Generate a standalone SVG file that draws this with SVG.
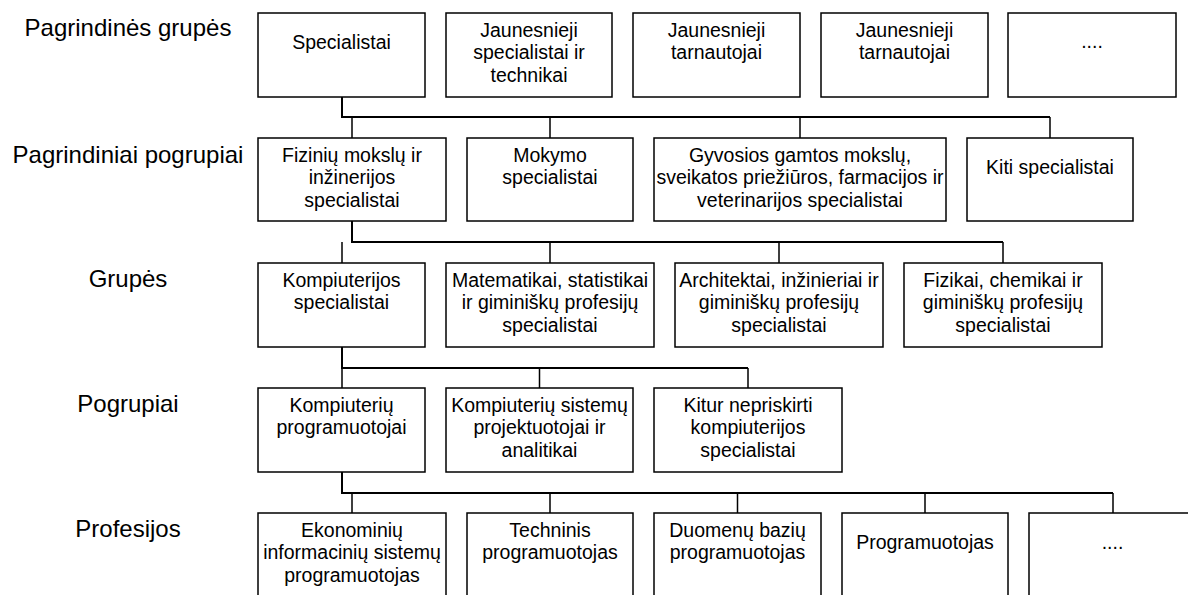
<svg xmlns="http://www.w3.org/2000/svg" width="1188" height="595" viewBox="0 0 1188 595">
<style>
.bg{fill:#fff}
.box{fill:#fff;stroke:#000;stroke-width:1.5}
.t{font-family:"Liberation Sans",Arial,sans-serif;font-size:19.5px;fill:#000;text-anchor:middle}
.lbl{font-family:"Liberation Sans",Arial,sans-serif;font-size:24px;fill:#000;text-anchor:middle}
.main{fill:none;stroke:#000;stroke-width:2}
.drop{fill:none;stroke:#000;stroke-width:1.5}
</style>
<rect class="bg" x="0" y="0" width="1188" height="595"/>
<g id="labels">
<text class="lbl" x="128" y="36">Pagrindinės grupės</text>
<text class="lbl" x="128" y="163">Pagrindiniai pogrupiai</text>
<text class="lbl" x="128" y="287">Grupės</text>
<text class="lbl" x="128" y="412">Pogrupiai</text>
<text class="lbl" x="128" y="537">Profesijos</text>
</g>
<g id="connectors">
<path class="main" d="M342,97 V117 H1050"/>
<path class="drop" d="M352,117 V138 M550,117 V138 M800,117 V138 M1050,117 V138"/>
<path class="main" d="M352,221 V242 H1003"/>
<path class="drop" d="M342,242 V263 M550,242 V263 M779,242 V263 M1003,242 V263"/>
<path class="main" d="M342,347 V368 H748"/>
<path class="drop" d="M342,368 V388 M539.5,368 V388 M748,368 V388"/>
<path class="main" d="M342,472 V493 H1113"/>
<path class="drop" d="M352,493 V513 M550,493 V513 M737.5,493 V513 M925,493 V513 M1113,493 V513"/>
</g>
<g id="n-specialistai"><rect class="box" x="258" y="13" width="167" height="84"/><text class="t" x="341.5" y="49">Specialistai</text></g>
<g id="n-jaun-spec"><rect class="box" x="446" y="13" width="166" height="84"/><text class="t" x="529" y="36.5">Jaunesnieji</text><text class="t" x="529" y="59">specialistai ir</text><text class="t" x="529" y="81.5">technikai</text></g>
<g id="n-jaun-tarn1"><rect class="box" x="633" y="13" width="167" height="84"/><text class="t" x="716.5" y="36.5">Jaunesnieji</text><text class="t" x="716.5" y="59">tarnautojai</text></g>
<g id="n-jaun-tarn2"><rect class="box" x="821" y="13" width="167" height="84"/><text class="t" x="904.5" y="36.5">Jaunesnieji</text><text class="t" x="904.5" y="59">tarnautojai</text></g>
<g id="n-more1"><rect class="box" x="1008" y="13" width="168" height="84"/><text class="t" x="1092" y="48">....</text></g>

<g id="n-fiziniu"><rect class="box" x="258" y="138" width="188" height="83"/><text class="t" x="352" y="161.5">Fizinių mokslų ir</text><text class="t" x="352" y="184">inžinerijos</text><text class="t" x="352" y="206.5">specialistai</text></g>
<g id="n-mokymo"><rect class="box" x="467" y="138" width="166" height="83"/><text class="t" x="550" y="161.5">Mokymo</text><text class="t" x="550" y="184">specialistai</text></g>
<g id="n-gyvosios"><rect class="box" x="654" y="138" width="292" height="83"/><text class="t" x="800" y="161.5">Gyvosios gamtos mokslų,</text><text class="t" x="800" y="184">sveikatos priežiūros, farmacijos ir</text><text class="t" x="800" y="206.5">veterinarijos specialistai</text></g>
<g id="n-kiti"><rect class="box" x="967" y="138" width="166" height="83"/><text class="t" x="1050" y="173.5">Kiti specialistai</text></g>

<g id="n-kompiuterijos"><rect class="box" x="258" y="263" width="167" height="84"/><text class="t" x="341.5" y="286.5">Kompiuterijos</text><text class="t" x="341.5" y="309">specialistai</text></g>
<g id="n-matematikai"><rect class="box" x="446" y="263" width="208" height="84"/><text class="t" x="550" y="286.5">Matematikai, statistikai</text><text class="t" x="550" y="309">ir giminiškų profesijų</text><text class="t" x="550" y="331.5">specialistai</text></g>
<g id="n-architektai"><rect class="box" x="675" y="263" width="208" height="84"/><text class="t" x="779" y="286.5">Architektai, inžinieriai ir</text><text class="t" x="779" y="309">giminiškų profesijų</text><text class="t" x="779" y="331.5">specialistai</text></g>
<g id="n-fizikai"><rect class="box" x="904" y="263" width="198" height="84"/><text class="t" x="1003" y="286.5">Fizikai, chemikai ir</text><text class="t" x="1003" y="309">giminiškų profesijų</text><text class="t" x="1003" y="331.5">specialistai</text></g>

<g id="n-programuotojai"><rect class="box" x="258" y="388" width="167" height="84"/><text class="t" x="341.5" y="411.5">Kompiuterių</text><text class="t" x="341.5" y="434">programuotojai</text></g>
<g id="n-sistemu"><rect class="box" x="446" y="388" width="187" height="84"/><text class="t" x="539.5" y="411.5">Kompiuterių sistemų</text><text class="t" x="539.5" y="434">projektuotojai ir</text><text class="t" x="539.5" y="456.5">analitikai</text></g>
<g id="n-kitur"><rect class="box" x="654" y="388" width="188" height="84"/><text class="t" x="748" y="411.5">Kitur nepriskirti</text><text class="t" x="748" y="434">kompiuterijos</text><text class="t" x="748" y="456.5">specialistai</text></g>

<g id="n-ekonominiu"><rect class="box" x="258" y="513" width="188" height="84"/><text class="t" x="352" y="536.5">Ekonominių</text><text class="t" x="352" y="559">informacinių sistemų</text><text class="t" x="352" y="581.5">programuotojas</text></g>
<g id="n-techninis"><rect class="box" x="467" y="513" width="166" height="84"/><text class="t" x="550" y="536.5">Techninis</text><text class="t" x="550" y="559">programuotojas</text></g>
<g id="n-duomenu"><rect class="box" x="654" y="513" width="167" height="84"/><text class="t" x="737.5" y="536.5">Duomenų bazių</text><text class="t" x="737.5" y="559">programuotojas</text></g>
<g id="n-programuotojas"><rect class="box" x="842" y="513" width="166" height="84"/><text class="t" x="925" y="548.5">Programuotojas</text></g>
<g id="n-more2"><rect class="box" x="1029" y="513" width="168" height="84"/><text class="t" x="1112.5" y="548.5">....</text></g>
</svg>
